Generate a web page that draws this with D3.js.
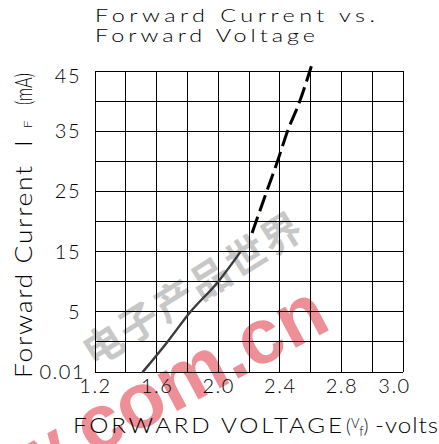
<!DOCTYPE html>
<html>
<head>
<meta charset="utf-8">
<script src="https://cdn.jsdelivr.net/npm/d3@7"></script>
<style>
  html, body { margin: 0; padding: 0; background: #fff; }
  svg { display: block; }
</style>
</head>
<body>
<script>
// ---- data ----
const titleLines = ["Forward Current vs.", "Forward Voltage"];
const xTickValues = [1.2, 1.6, 2.0, 2.4, 2.8, 3.2];
const xTickLabels = ["1.2", "1.6", "2.0", "2.4", "2.8", "3.0"];
const yTickValues = [45, 35, 25, 15, 5, -5];
const yTickLabels = ["45", "35", "25", "15", "5", "0.01"];
const xGridValues = [1.2, 1.4, 1.6, 1.8, 2.0, 2.2, 2.4, 2.6, 2.8, 3.0, 3.2];
const yGridValues = [-5, 0, 5, 10, 15, 20, 25, 30, 35, 40, 45];
// measured part of the curve (solid)
const solidVolts = [1.51, 1.67, 1.82, 2.00, 2.14];
const solidCurrent = [-5, 0, 5, 10, 14.8];
// extrapolated part of the curve (dashed)
const dashVolts = [2.22, 2.315, 2.385, 2.45, 2.53, 2.605];
const dashCurrent = [18.1, 25, 30, 35, 40, 45.8];

const W = 439, H = 444;
const svg = d3.select("body").append("svg").attr("width", W).attr("height", H);

const x = d3.scaleLinear().domain([1.2, 3.2]).range([95, 403]);
const y = d3.scaleLinear().domain([-5, 45]).range([372, 71]);

const thin = "Lato, 'Liberation Sans', sans-serif";

// helper: wide thin text (stroke-font look)
function wideText(parent, tx, ty, sx, size, len, str, rot) {
  const g = parent.append("g")
    .attr("transform", `translate(${tx},${ty})${rot ? " rotate(" + rot + ")" : ""} scale(${sx},1)`);
  const t = g.append("text").attr("x", 0).attr("y", 0)
    .attr("font-family", thin).attr("font-weight", 300).attr("font-size", size).attr("fill", "#000").text(str);
  if (len) t.attr("textLength", len / sx).attr("lengthAdjust", "spacing");
  return t;
}

// title
wideText(svg, 95, 22, 1.3, 18, 280, titleLines[0]);
wideText(svg, 95, 42, 1.3, 18, 220, titleLines[1]);

// watermark (behind grid lines, as in reference)
const wm = svg.append("g");
wm.append("text").attr("transform", "translate(94,368) rotate(-32)")
  .attr("font-family", "'Noto Sans CJK SC', sans-serif").attr("font-weight", 700)
  .attr("font-size", 40).attr("letter-spacing", 2).attr("fill", "#9a9a9a").attr("opacity", 0.55).text("电子产品世界");
wm.append("text").attr("transform", "translate(333,328) rotate(-28)")
  .attr("text-anchor", "end").attr("font-family", "'Liberation Sans', sans-serif")
  .attr("font-weight", 700).attr("font-size", 78).attr("fill", "#e8646e").attr("opacity", 0.72)
  .text("w.com.cn");

// grid
const grid = svg.append("g").attr("stroke", "#000").attr("stroke-width", 1).attr("shape-rendering", "crispEdges");
grid.selectAll("line.v").data(xGridValues).join("line").attr("class", "v")
  .attr("x1", d => x(d)).attr("x2", d => x(d)).attr("y1", y(45)).attr("y2", y(-5));
grid.selectAll("line.h").data(yGridValues).join("line").attr("class", "h")
  .attr("x1", x(1.2)).attr("x2", x(3.2)).attr("y1", d => y(d)).attr("y2", d => y(d));

// axes (labels only)
const xAxis = d3.axisBottom(x).tickValues(xTickValues).tickSize(0).tickPadding(0)
  .tickFormat((d, i) => xTickLabels[i]);
const gx = svg.append("g").attr("transform", `translate(0,${y(-5)})`).call(xAxis);
gx.select(".domain").remove();
gx.selectAll("text").attr("font-family", thin).attr("font-weight", 300).attr("font-size", 20)
  .attr("fill", "#000").attr("letter-spacing", 1.5).attr("dy", 21).attr("y", 0)
  .attr("dx", (d, i) => i === xTickValues.length - 1 ? -9 : 0);

const yAxis = d3.axisLeft(y).tickValues(yTickValues).tickSize(0).tickPadding(0)
  .tickFormat((d, i) => yTickLabels[i]);
const gy = svg.append("g").attr("transform", `translate(${x(1.2)},0)`).call(yAxis);
gy.select(".domain").remove();
gy.selectAll(".tick").attr("transform", d => `translate(0,${Math.max(y(d), y(45) + 5)})`);
gy.selectAll("text").attr("font-family", thin).attr("font-weight", 300).attr("font-size", 20)
  .attr("fill", "#000").attr("letter-spacing", 1.5)
  .attr("x", (d, i) => i === yTickValues.length - 1 ? -10 : -14).attr("dy", "0.35em");

// curve
const solidData = solidVolts.map((v, i) => [v, solidCurrent[i]]);
const dashData = dashVolts.map((v, i) => [v, dashCurrent[i]]);
const line = d3.line().x(d => x(d[0])).y(d => y(d[1])).curve(d3.curveMonotoneX);
svg.append("path").datum(solidData).attr("d", line).attr("fill", "none")
  .attr("stroke", "#3a3a3a").attr("stroke-width", 2.4).attr("stroke-linecap", "round");
svg.append("path").datum(dashData).attr("d", line).attr("fill", "none")
  .attr("stroke", "#000").attr("stroke-width", 3).attr("stroke-dasharray", "17,6");

// y-axis title (rotated)
const yt = svg.append("g");
wideText(yt, 32, 378, 1.15, 23, 212, "Forward Current", -90);
wideText(yt, 32, 147, 1.15, 23, null, "I", -90);
wideText(yt, 32, 128, 1.2, 11, null, "F", -90);
yt.append("text").attr("transform", "translate(32,105) rotate(-90)")
  .attr("font-family", thin).attr("font-weight", 300).attr("font-size", 24)
  .attr("textLength", 32).attr("lengthAdjust", "spacingAndGlyphs").text("(mA)");

// x-axis title
const xt = svg.append("g");
wideText(xt, 73, 433, 1.1, 22, 269, "FORWARD VOLTAGE");
const vf = xt.append("text").attr("x", 346).attr("y", 433)
  .attr("font-family", thin).attr("font-weight", 300).attr("font-size", 19);
vf.append("tspan").text("(");
vf.append("tspan").attr("font-size", 13).attr("dy", -5).text("V");
vf.append("tspan").attr("font-size", 13).attr("dy", 8).text("f");
vf.append("tspan").attr("dy", -3).text(")");
wideText(xt, 375, 433, 1.1, 22, 63, "-volts");
</script>
</body>
</html>
